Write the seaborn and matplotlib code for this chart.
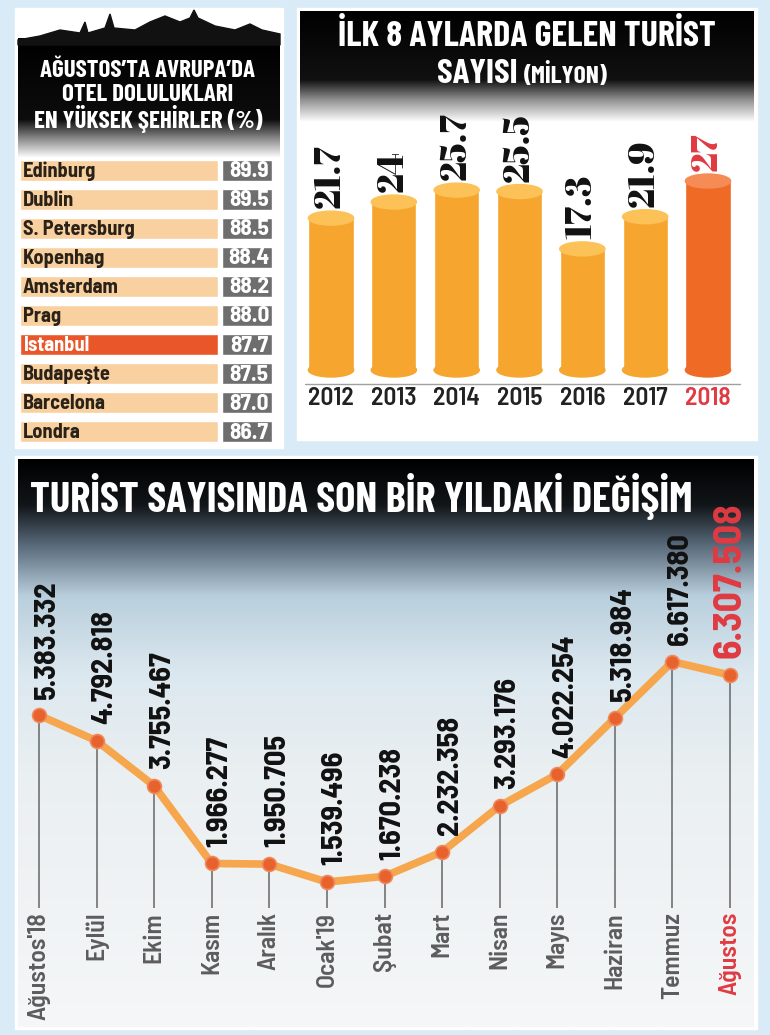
import os
import numpy as np
import matplotlib
matplotlib.use("Agg")
import matplotlib.pyplot as plt
import seaborn as sns
from matplotlib import font_manager
from matplotlib.font_manager import FontProperties
from matplotlib.textpath import TextPath
from matplotlib.patches import Ellipse, Rectangle, Polygon
from matplotlib.colors import LinearSegmentedColormap

# hotel occupancy, August (%)
cities = ["Edinburg", "Dublin", "S. Petersburg", "Kopenhag", "Amsterdam",
          "Prag", "İstanbul", "Budapeşte", "Barcelona", "Londra"]
occupancy = [89.9, 89.5, 88.5, 88.4, 88.2, 88.0, 87.7, 87.5, 87.0, 86.7]

# tourists in first 8 months (million)
years = ["2012", "2013", "2014", "2015", "2016", "2017", "2018"]
tourists_m = [21.7, 24, 25.7, 25.5, 17.3, 21.9, 27]

# monthly tourist numbers
months = ["Ağustos'18", "Eylül", "Ekim", "Kasım", "Aralık", "Ocak'19", "Şubat",
          "Mart", "Nisan", "Mayıs", "Haziran", "Temmuz", "Ağustos"]
monthly = [5383332, 4792818, 3755467, 1966277, 1950705, 1539496, 1670238,
           2232358, 3293176, 4022254, 5318984, 6617380, 6307508]

sns.set_theme(style="white")
plt.rcParams['font.family'] = ['DejaVu Sans']

# font files
files = {os.path.basename(f.fname): f.fname for f in font_manager.fontManager.ttflist}


def font(names, family, weight="normal"):
    for n in names:
        if n in files:
            return FontProperties(fname=files[n])
    return FontProperties(family=family, weight=weight)


F_TITLE = font(["BarlowCondensed-Bold.ttf", "BarlowSemiCondensed-Bold.ttf"], "DejaVu Sans", "bold")
F_BOLD = font(["BarlowSemiCondensed-Bold.ttf", "RobotoCondensed-Bold.ttf"], "DejaVu Sans", "bold")
F_SEMI = font(["BarlowSemiCondensed-SemiBold.ttf", "BarlowSemiCondensed-Medium.ttf"], "DejaVu Sans")
F_SERIF = font(["AbrilFatface-Regular.ttf"], "DejaVu Serif", "bold")


def fit(text, px, fp):
    """font size (pt) that makes text about px pixels long"""
    w = TextPath((0, 0), text, size=10, prop=fp).get_extents().width
    return 10 * px / w * 72 / 100


def fp(base, size):
    p = base.copy()
    p.set_size(size)
    return p


W, H = 770, 1035
fig = plt.figure(figsize=(7.7, 10.35), dpi=100)
fig.patch.set_facecolor("#d9ebf6")
RED = "#e03a42"


def px_axes(x, y, w, h):
    return fig.add_axes([x / W, 1 - (y + h) / H, w / W, h / H])


def gradient(ax, x0, x1, y0, y1, stops):
    cmap = LinearSegmentedColormap.from_list("g", stops)
    img = cmap(np.linspace(0, 1, 256))[:, None, :]
    ax.imshow(img, extent=(x0, x1, y1, y0), aspect="auto", zorder=1)


# background / panels
bg = fig.add_axes([0, 0, 1, 1])
bg.axis("off")
bg.add_patch(Rectangle((15, 8), 268, 440, color="white", zorder=0))
bg.add_patch(Rectangle((297, 8), 460, 432, color="white", zorder=0))
bg.add_patch(Rectangle((15, 456), 742, 573, color="white", zorder=0))
gradient(bg, 18, 280, 38, 158, [(0, "#000000"), (0.68, "#0d0d0d"), (0.84, "#8a8a8a"), (1, "#ffffff")])
gradient(bg, 300, 754, 11, 122, [(0, "#000000"), (0.62, "#111111"), (0.8, "#909090"), (1, "#ffffff")])
gradient(bg, 18, 754, 459, 1027, [(0, "#000000"), (0.08, "#121619"), (0.15, "#58697a"),
                                  (0.24, "#b9cfdd"), (0.38, "#dce8ef"), (0.55, "#eaeff1"),
                                  (1, "#f5f7f8")])
# skyline silhouette on the left header
sky = [(18, 40), (40, 36), (60, 30), (80, 33), (85, 22), (88, 33), (105, 28), (110, 14), (114, 28),
       (135, 30), (150, 22), (165, 16), (180, 22), (190, 18), (194, 10), (198, 18), (215, 26),
       (235, 30), (250, 24), (262, 30), (280, 34), (280, 45), (18, 45)]
bg.add_patch(Polygon(sky, closed=True, color="#111111", zorder=2))
bg.plot([305, 740], [384, 384], color="#a0a0a0", lw=1, zorder=2)
bg.set_xlim(0, W)
bg.set_ylim(H, 0)

# titles
s_left = fit("AĞUSTOS’TA AVRUPA’DA", 214, F_TITLE)
for txt, y in [("AĞUSTOS’TA AVRUPA’DA", 71), ("OTEL DOLULUKLARI", 95), ("EN YÜKSEK ŞEHİRLER (%)", 119)]:
    bg.text(148, y, txt, ha="center", va="center", color="white",
            fontproperties=fp(F_TITLE, s_left), zorder=5)
s_right = fit("İLK 8 AYLARDA GELEN TURİST", 375, F_TITLE)
bg.text(527, 36, "İLK 8 AYLARDA GELEN TURİST", ha="center", va="center", color="white",
        fontproperties=fp(F_TITLE, s_right), zorder=5)
bg.text(518, 83, "SAYISI", ha="right", va="baseline", color="white",
        fontproperties=fp(F_TITLE, fit("SAYISI", 78, F_TITLE)), zorder=5)
bg.text(524, 83, "(MİLYON)", ha="left", va="baseline", color="white",
        fontproperties=fp(F_TITLE, fit("(MİLYON)", 84, F_TITLE)), zorder=5)
bg.text(30, 497, "TURİST SAYISINDA SON BİR YILDAKİ DEĞİŞİM", ha="left", va="center", color="white",
        fontproperties=fp(F_TITLE, fit("TURİST SAYISINDA SON BİR YILDAKİ DEĞİŞİM", 660, F_TITLE)), zorder=5)

# --- hotel occupancy list ---
ax1 = px_axes(20, 155.5, 252, 291)
rows = np.arange(len(cities))
name_colors = ["#e9562a" if c == "İstanbul" else "#f9d1a0" for c in cities]
ax1.barh(rows, 198, left=0, height=0.72, color=name_colors)
ax1.barh(rows, 50, left=202, height=0.72, color="#6e6e6e")
p_city = fp(F_BOLD, fit("S. Petersburg", 110, F_BOLD))
p_val = fp(F_BOLD, fit("89.9", 38, F_BOLD))
for r, (c, v) in enumerate(zip(cities, occupancy)):
    ax1.text(3, r + 0.03, c, ha="left", va="center", fontproperties=p_city,
             color="white" if c == "İstanbul" else "#2a2218")
    ax1.text(229, r + 0.03, f"{v:.1f}", ha="center", va="center", fontproperties=p_val, color="white")
ax1.set_xlim(0, 252)
ax1.set_ylim(9.5, -0.5)
ax1.axis("off")

# --- cylinder bar chart ---
ax2 = px_axes(299.6, 140, 439.8, 240.5)
ax2.patch.set_alpha(0)
body = ["#ee6a25" if y == "2018" else "#f6a52e" for y in years]
top = ["#f58b55" if y == "2018" else "#fcc257" for y in years]
sns.barplot(x=years, y=tourists_m, hue=years, palette=body, width=0.72,
            saturation=1, legend=False, ax=ax2, zorder=2)
p_num = fp(F_SERIF, fit("21.7", 62, F_SERIF))
for i, v in enumerate(tourists_m):
    ax2.add_patch(Ellipse((i, 0), 0.72, 2.0, color=body[i], zorder=2))
    ax2.add_patch(Ellipse((i, v), 0.72, 2.0, color=top[i], zorder=3))
    ax2.text(i, v + 1.4, f"{v:g}", rotation=90, ha="center", va="bottom", fontproperties=p_num,
             color=RED if years[i] == "2018" else "#111111")
ax2.set_xlim(-0.5, 6.5)
ax2.set_ylim(-1.5, 32.86)
ax2.set_yticks([])
ax2.set_xlabel("")
ax2.set_ylabel("")
ax2.tick_params(axis="x", length=0, pad=5)
p_year = fp(F_SEMI, fit("2012", 44, F_SEMI))
for lbl in ax2.get_xticklabels():
    lbl.set_fontproperties(p_year)
    lbl.set_color(RED if lbl.get_text() == "2018" else "#222222")
sns.despine(ax=ax2, left=True, bottom=True)

# --- monthly line chart ---
ax3 = px_axes(10.2, 540, 748.6, 408.8)
ax3.patch.set_alpha(0)
xs = np.arange(len(months))
ax3.vlines(xs, 0.93e6, monthly, color="#666666", lw=1.1, zorder=1)
sns.lineplot(x=xs, y=monthly, ax=ax3, color="#f6a64c", lw=5.5, zorder=3,
             marker="o", markersize=10, markerfacecolor="#e8622e",
             markeredgecolor="#f08a5c", markeredgewidth=1.2)
p_lab = fp(F_BOLD, fit("5.383.332", 117, F_BOLD))
p_last = fp(F_BOLD, fit("6.307.508", 153, F_BOLD))
p_mon = fp(F_SEMI, fit("Ağustos'18", 106, F_SEMI))
for i, (m, v) in enumerate(zip(months, monthly)):
    last = i == len(months) - 1
    lab = f"{v:,}".replace(",", ".")
    ax3.annotate(lab, (i, v), xytext=(0 if last else 6, 12), textcoords="offset points",
                 rotation=90, ha="center", va="bottom", fontproperties=p_last if last else p_lab,
                 color=RED if last else "#111111")
    ax3.text(i, 0.85e6, m, rotation=90, ha="center", va="top", fontproperties=p_mon,
             color=RED if last else "#5c5c5c")
ax3.set_xlim(-0.5, 12.5)
ax3.set_ylim(0, 9.42e6)
ax3.axis("off")

fig.savefig("out.png", dpi=100, facecolor=fig.get_facecolor())
